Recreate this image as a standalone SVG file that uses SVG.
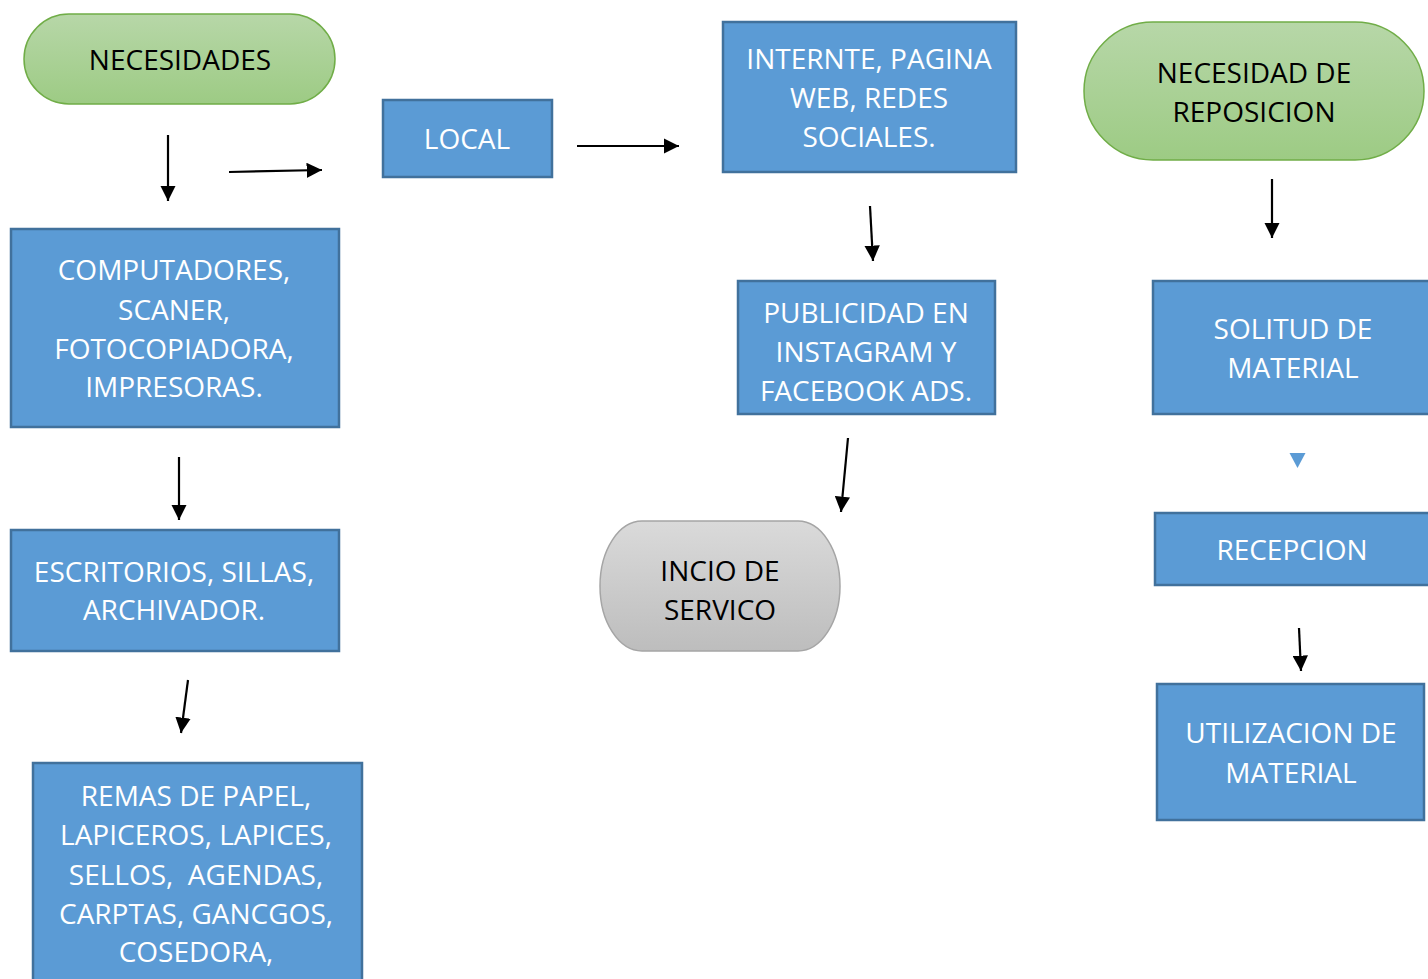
<svg xmlns="http://www.w3.org/2000/svg" width="1428" height="979" viewBox="0 0 1428 979">
<defs>
<linearGradient id="gGreen" x1="0" y1="0" x2="0" y2="1"><stop offset="0" stop-color="#b7d7a8"/><stop offset="1" stop-color="#9dcb84"/></linearGradient>
<linearGradient id="gGray" x1="0" y1="0" x2="0" y2="1"><stop offset="0" stop-color="#dadada"/><stop offset="1" stop-color="#bdbdbd"/></linearGradient>
<marker id="ah" viewBox="0 0 10 10" refX="10" refY="5" markerWidth="7" markerHeight="7" orient="auto" markerUnits="strokeWidth"><path d="M0,0 L10,5 L0,10 z" fill="#000"/></marker>
</defs>
<style>
.box{fill:#5b9bd5;stroke:#41719c;stroke-width:2.5}
.green{fill:url(#gGreen);stroke:#70ad47;stroke-width:1.5}
.gray{fill:url(#gGray);stroke:#a5a5a5;stroke-width:1.5}
text{font-family:"Open Sans","Noto Sans",sans-serif;font-size:28px;text-anchor:middle}
.w{fill:#ffffff}
.k{fill:#000000}
.conn line{stroke:#000;stroke-width:2.2;marker-end:url(#ah)}
</style>
<rect width="1428" height="979" fill="#ffffff"/>
<g id="necesidades"><rect class="green" x="24" y="14" width="311" height="90" rx="45" ry="45"/><text class="k" x="180" y="70">NECESIDADES</text></g>
<g id="local"><rect class="box" x="383" y="100" width="169" height="77"/><text class="w" x="467" y="149">LOCAL</text></g>
<g id="internet"><rect class="box" x="723" y="22" width="293" height="150"/><text class="w" x="869" y="69">INTERNTE, PAGINA</text><text class="w" x="869" y="108">WEB, REDES</text><text class="w" x="869" y="147">SOCIALES.</text></g>
<g id="reposicion"><rect class="green" x="1084" y="22" width="340" height="138" rx="69" ry="69"/><text class="k" x="1254" y="83">NECESIDAD DE</text><text class="k" x="1254" y="122">REPOSICION</text></g>
<g id="computadores"><rect class="box" x="11" y="229" width="328" height="198"/><text class="w" x="174" y="280">COMPUTADORES,</text><text class="w" x="174" y="320">SCANER,</text><text class="w" x="174" y="359">FOTOCOPIADORA,</text><text class="w" x="174" y="397">IMPRESORAS.</text></g>
<g id="escritorios"><rect class="box" x="11" y="530" width="328" height="121"/><text class="w" x="174" y="582">ESCRITORIOS, SILLAS,</text><text class="w" x="174" y="620">ARCHIVADOR.</text></g>
<g id="remas"><rect class="box" x="33" y="763" width="329" height="230"/><text class="w" x="196" y="806">REMAS DE PAPEL,</text><text class="w" x="196" y="845">LAPICEROS, LAPICES,</text><text class="w" x="196" y="885" xml:space="preserve">SELLOS,  AGENDAS,</text><text class="w" x="196" y="924">CARPTAS, GANCGOS,</text><text class="w" x="196" y="962">COSEDORA,</text></g>
<g id="publicidad"><rect class="box" x="738" y="281" width="257" height="133"/><text class="w" x="866" y="323">PUBLICIDAD EN</text><text class="w" x="866" y="362">INSTAGRAM Y</text><text class="w" x="866" y="401">FACEBOOK ADS.</text></g>
<g id="inicio"><rect class="gray" x="600" y="521" width="240" height="130" rx="42" ry="65"/><text class="k" x="720" y="581">INCIO DE</text><text class="k" x="720" y="620">SERVICO</text></g>
<g id="solitud"><rect class="box" x="1153" y="281" width="290" height="133"/><text class="w" x="1293" y="339">SOLITUD DE</text><text class="w" x="1293" y="378">MATERIAL</text></g>
<g id="recepcion"><rect class="box" x="1155" y="513" width="290" height="72"/><text class="w" x="1292" y="560">RECEPCION</text></g>
<g id="utilizacion"><rect class="box" x="1157" y="684" width="267" height="136"/><text class="w" x="1291" y="743">UTILIZACION DE</text><text class="w" x="1291" y="783">MATERIAL</text></g>
<g id="connectors" class="conn">
<line x1="168" y1="135" x2="168" y2="201"/>
<line x1="229" y1="172" x2="322" y2="170"/>
<line x1="577" y1="146" x2="679" y2="146"/>
<line x1="870" y1="206" x2="873" y2="261"/>
<line x1="1272" y1="179" x2="1272" y2="238"/>
<line x1="179" y1="457" x2="179" y2="520"/>
<line x1="188" y1="680" x2="181" y2="733"/>
<line x1="848" y1="438" x2="841" y2="512"/>
<line x1="1299" y1="628" x2="1301" y2="671"/>
<path d="M1289.5,453 L1305.5,453 L1297.5,468 z" fill="#5b9bd5"/>
</g>
</svg>
